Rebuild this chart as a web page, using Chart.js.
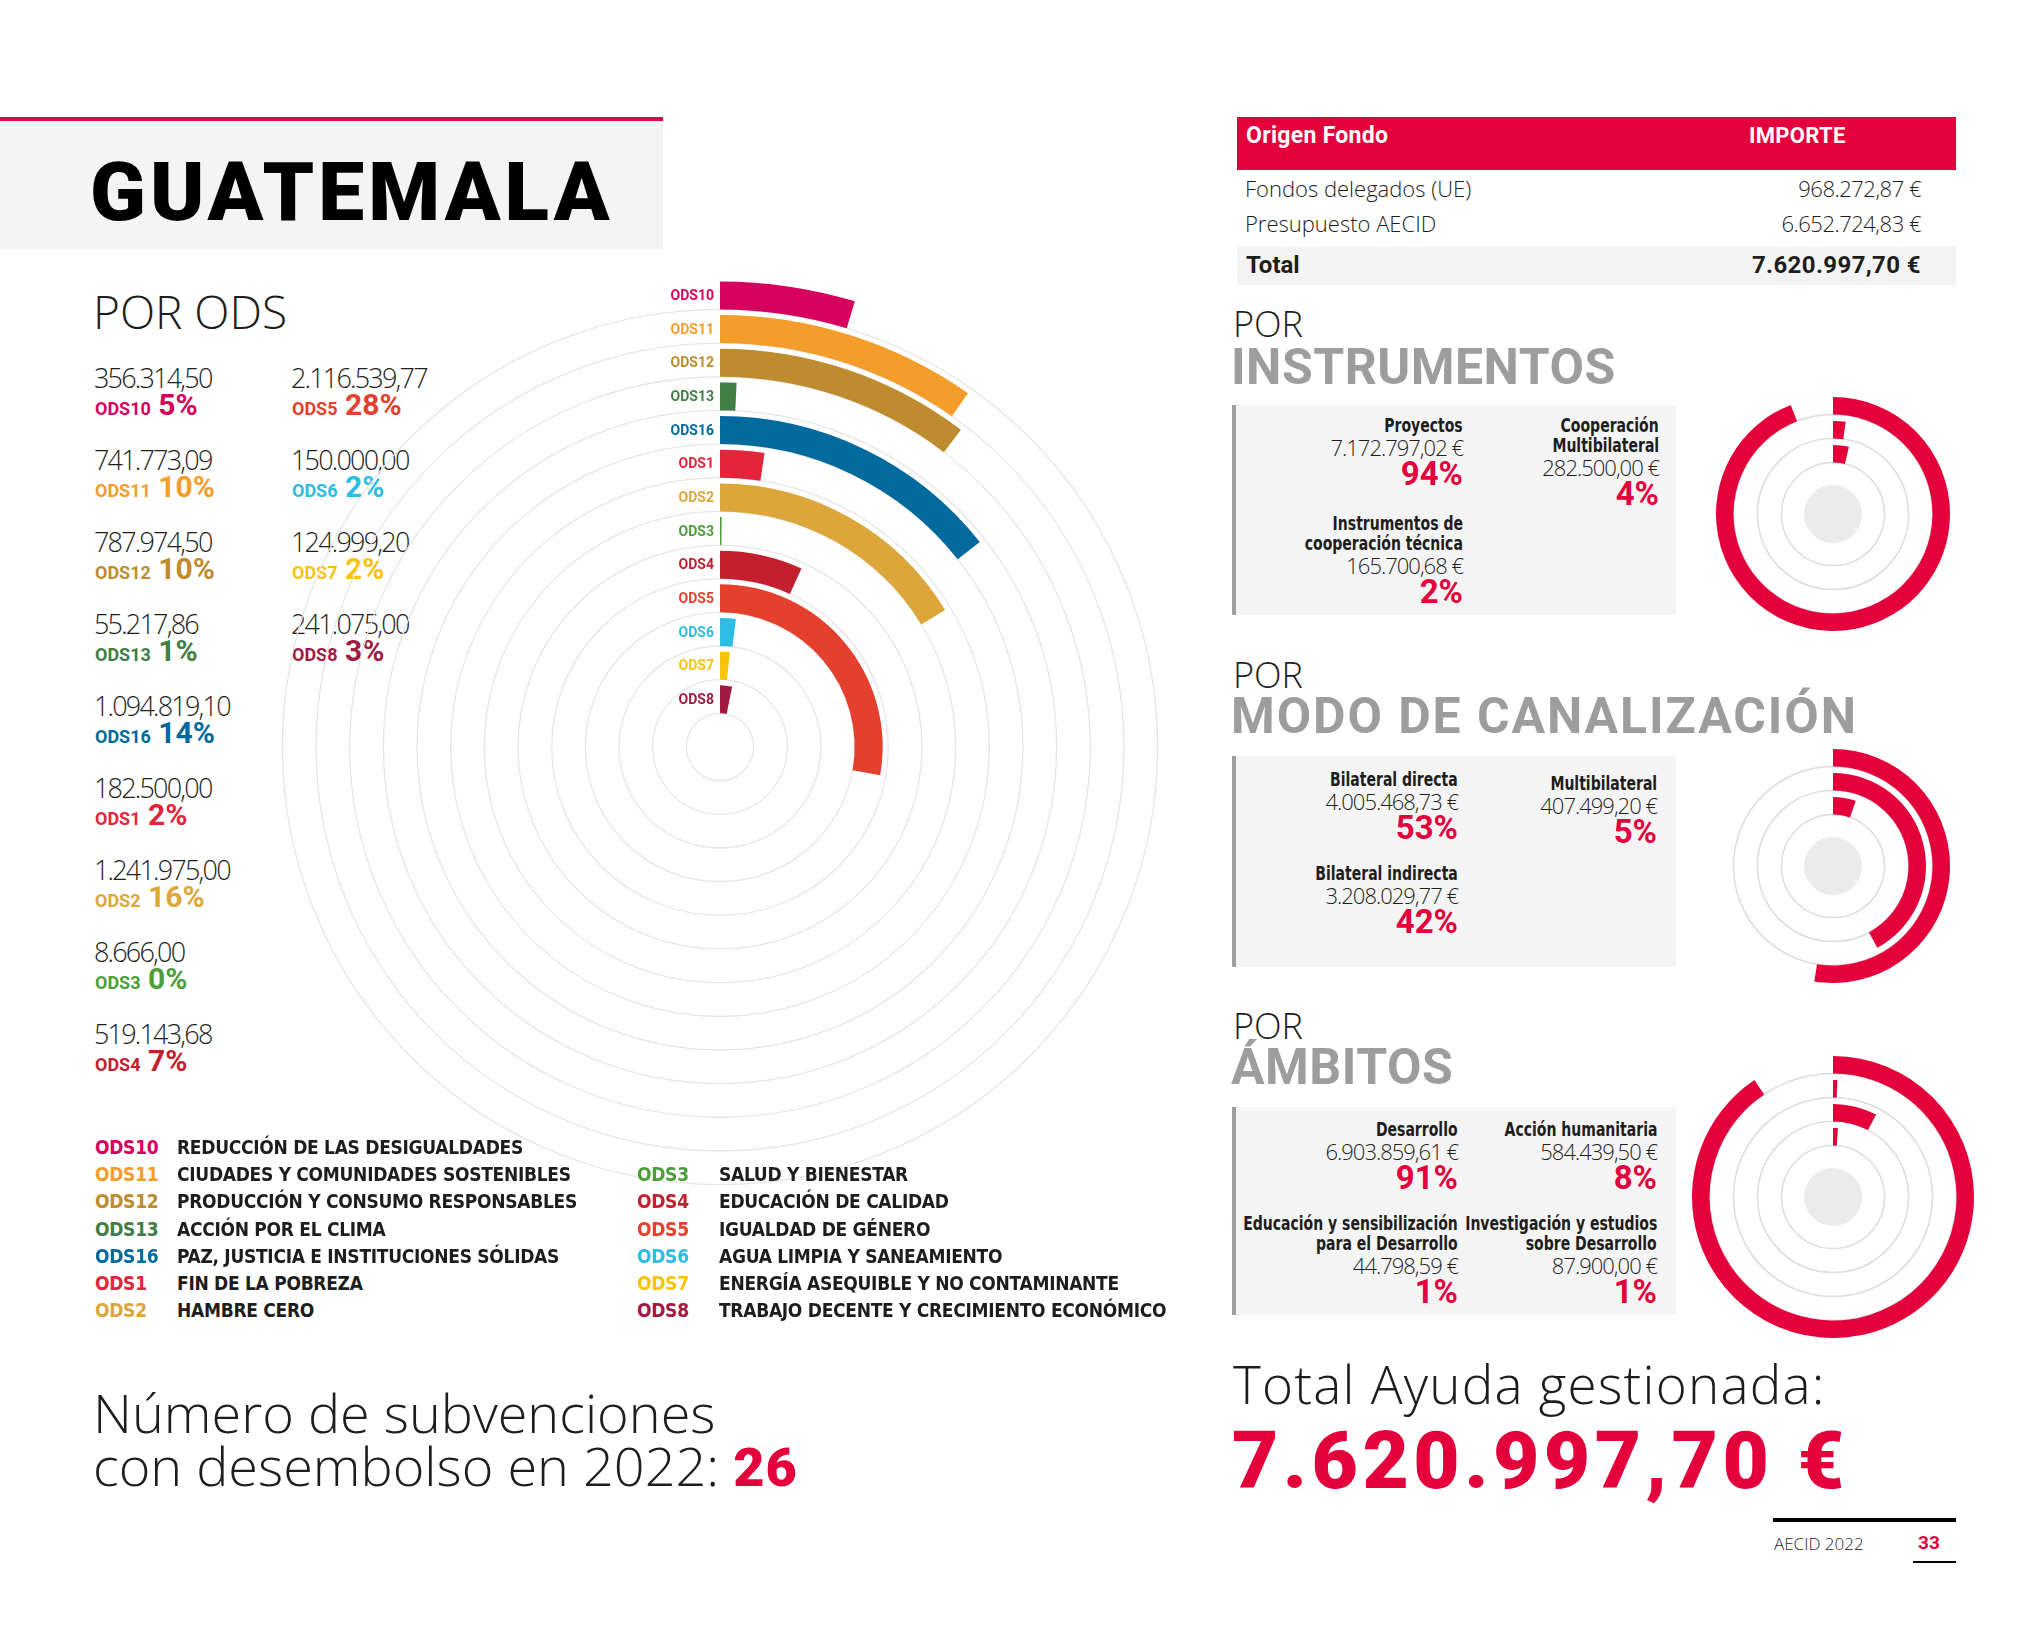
<!DOCTYPE html>
<html lang="es">
<head>
<meta charset="utf-8">
<title>Guatemala - AECID 2022</title>
<script src="https://cdn.jsdelivr.net/npm/chart.js@4.4.1/dist/chart.umd.min.js"></script>
<style>
  body { margin: 0; background: #fff; }
  #page { position: relative; width: 2044px; height: 1636px; overflow: hidden; font-family: 'Open Sans', sans-serif; color: #1d1d1b; }
  .abs { position: absolute; white-space: nowrap; }
  .light { font-family: 'Open Sans', sans-serif; font-weight: 300; }
  .bold { font-family: Roboto, sans-serif; font-weight: 700; }
  .narrow { font-family: 'Liberation Sans Narrow', 'DejaVu Sans Condensed', sans-serif; font-weight: 700; }
  .red { color: #e4003b; }
  canvas { position: absolute; }
  .box { position: absolute; left: 1232px; width: 440px; background: #f4f4f4; border-left: 4px solid #9e9e9e; }
  .col { position: absolute; text-align: right; white-space: nowrap; }
  .col .lab { font-family: 'Liberation Sans Narrow', 'DejaVu Sans Condensed', sans-serif; font-weight: 700; font-size: 19px; line-height: 20px; color: #1d1d1b; }
  .col .lab span { display: inline-block; transform: scaleX(0.82); transform-origin: right center; }
  .col .val { font-family: 'Open Sans', sans-serif; font-weight: 300; font-size: 22px; line-height: 24px; letter-spacing: -1px; }
  .col .pct { font-family: Roboto, sans-serif; font-weight: 700; font-size: 33px; line-height: 30px; color: #e4003b; }
  .sec-por { font-family: 'Open Sans', sans-serif; font-weight: 300; font-size: 36px; line-height: 36px; left: 1233px; }
  .sec-title { font-family: Roboto, sans-serif; font-weight: 700; font-size: 50px; line-height: 50px; color: #9d9d9d; left: 1231px; letter-spacing: 0.5px; }
</style>
</head>
<body>
<div id="page">
  <!-- cabecera -->
  <div class="abs" style="left:0;top:117px;width:663px;height:4px;background:#dc0a45;"></div>
  <div class="abs" style="left:0;top:121px;width:663px;height:128px;background:#f4f4f4;"></div>
  <div class="abs bold" style="left:90px;top:151px;font-size:82px;line-height:82px;font-weight:900;letter-spacing:4px;color:#000;">GUATEMALA</div>
  <div class="abs light" style="left:93px;top:288px;font-size:46px;line-height:46px;">POR ODS</div>

  <div id="odsValues"></div>
  <canvas id="odsChart" width="940" height="940" style="left:250px;top:277px;"></canvas>
  <div id="odsLegend"></div>

  <div class="abs light" style="left:93px;top:1386px;font-size:54px;line-height:53px;">Número de subvenciones<br>con desembolso en 2022: <span id="numSub" class="bold red" style="font-weight:900;letter-spacing:1px;"></span></div>

  <!-- tabla origen -->
  <div class="abs" style="left:1237px;top:117px;width:719px;height:53px;background:#e4003b;"></div>
  <div class="abs bold" style="left:1246px;top:124px;font-size:23px;line-height:24px;letter-spacing:0.3px;color:#fff;">Origen Fondo</div>
  <div class="abs bold" style="left:1749px;top:124px;font-size:22px;line-height:24px;letter-spacing:0.3px;color:#fff;">IMPORTE</div>
  <div class="abs" style="left:1237px;top:247px;width:719px;height:38px;background:#f3f3f3;"></div>
  <div id="fundTable"></div>

  <!-- secciones -->
  <div class="abs sec-por" style="top:306px;">POR</div>
  <div class="abs sec-title" style="top:342px;">INSTRUMENTOS</div>
  <div class="box" style="top:405px;height:210px;"></div>
  <div id="instrText"></div>
  <canvas id="instrChart" width="250" height="250" style="left:1708px;top:389px;"></canvas>

  <div class="abs sec-por" style="top:657px;">POR</div>
  <div class="abs sec-title" style="top:691px;letter-spacing:1.9px;">MODO DE CANALIZACIÓN</div>
  <div class="box" style="top:756px;height:211px;"></div>
  <div id="canalText"></div>
  <canvas id="canalChart" width="250" height="250" style="left:1708px;top:741px;"></canvas>

  <div class="abs sec-por" style="top:1008px;">POR</div>
  <div class="abs sec-title" style="top:1042px;">ÁMBITOS</div>
  <div class="box" style="top:1107px;height:208px;"></div>
  <div id="ambText"></div>
  <canvas id="ambChart" width="300" height="300" style="left:1683px;top:1047px;"></canvas>

  <div class="abs light" style="left:1233px;top:1358px;font-size:53px;line-height:52px;letter-spacing:1.2px;">Total Ayuda gestionada:</div>
  <div id="bigTotal" class="abs bold red" style="left:1232px;top:1421px;font-size:80px;line-height:80px;font-weight:900;letter-spacing:4.5px;"></div>

  <div class="abs" style="left:1773px;top:1518px;width:183px;height:4px;background:#000;"></div>
  <div class="abs light" style="left:1774px;top:1533px;font-size:17px;line-height:22px;">AECID 2022</div>
  <div class="abs bold red" style="left:1918px;top:1532px;font-size:19px;line-height:22px;">33</div>
  <div class="abs" style="left:1913px;top:1561px;width:43px;height:2px;background:#000;"></div>
</div>

<script>
// ODS (orden de los anillos, de fuera hacia dentro)
const odsCodes = ['ODS10', 'ODS11', 'ODS12', 'ODS13', 'ODS16', 'ODS1', 'ODS2', 'ODS3', 'ODS4', 'ODS5', 'ODS6', 'ODS7', 'ODS8'];
const odsNames = [
    'REDUCCIÓN DE LAS DESIGUALDADES',
    'CIUDADES Y COMUNIDADES SOSTENIBLES',
    'PRODUCCIÓN Y CONSUMO RESPONSABLES',
    'ACCIÓN POR EL CLIMA',
    'PAZ, JUSTICIA E INSTITUCIONES SÓLIDAS',
    'FIN DE LA POBREZA',
    'HAMBRE CERO',
    'SALUD Y BIENESTAR',
    'EDUCACIÓN DE CALIDAD',
    'IGUALDAD DE GÉNERO',
    'AGUA LIMPIA Y SANEAMIENTO',
    'ENERGÍA ASEQUIBLE Y NO CONTAMINANTE',
    'TRABAJO DECENTE Y CRECIMIENTO ECONÓMICO'
];
const odsValues = [356314.50, 741773.09, 787974.50, 55217.86, 1094819.10, 182500.00, 1241975.00, 8666.00, 519143.68, 2116539.77, 150000.00, 124999.20, 241075.00];
const odsColors = ['#d8005f', '#f59d2a', '#be8b2f', '#3f7e44', '#00699d', '#e3243b', '#dda63a', '#4c9f38', '#c41f2e', '#e5402d', '#2dbce2', '#f8c20d', '#a11a42'];

// origen de fondos
const fundSources = ['Fondos delegados (UE)', 'Presupuesto AECID'];
const fundValues = [968272.87, 6652724.83];

// instrumentos (anillos de fuera hacia dentro)
const instrLabels = ['Proyectos', 'Instrumentos de\ncooperación técnica', 'Cooperación\nMultibilateral'];
const instrValues = [7172797.02, 165700.68, 282500.00];

// modo de canalización
const canalLabels = ['Bilateral directa', 'Bilateral indirecta', 'Multibilateral'];
const canalValues = [4005468.73, 3208029.77, 407499.20];

// ámbitos
const ambLabels = ['Desarrollo', 'Educación y sensibilización\npara el Desarrollo', 'Acción humanitaria', 'Investigación y estudios\nsobre Desarrollo'];
const ambValues = [6903859.61, 44798.59, 584439.50, 87900.00];

const numSubvenciones = 26;

const RED = '#e4003b';
const sum = arr => arr.reduce((a, b) => a + b, 0);
const total = sum(odsValues);

const fmtNum = v => {
    const [i, d] = v.toFixed(2).split('.');
    return i.replace(/\B(?=(\d{3})+(?!\d))/g, '.') + ',' + d;
};
const pct = (v, t) => Math.round(v / t * 100) + '%';

const el = (parent, html, style, cls) => {
    const d = document.createElement('div');
    d.className = 'abs ' + (cls || '');
    d.style.cssText = style;
    d.innerHTML = html;
    parent.appendChild(d);
    return d;
};

// --- columna de valores por ODS
const valuesBox = document.getElementById('odsValues');
odsCodes.forEach((code, i) => {
    const col = i < 9 ? 0 : 1;
    const row = col === 0 ? i : i - 9;
    const x = col === 0 ? 95 : 292;
    const y = 363 + row * 82;
    el(valuesBox, fmtNum(odsValues[i]), `left:${x - 1}px;top:${y}px;font-size:27px;line-height:30px;letter-spacing:-1.8px;`, 'light');
    el(valuesBox, `<span style="font-size:18px;">${code}</span> ${pct(odsValues[i], total)}`,
        `left:${x}px;top:${y + 27}px;font-size:30px;line-height:30px;color:${odsColors[i]};`, 'bold');
});

// --- leyenda
const legendBox = document.getElementById('odsLegend');
odsCodes.forEach((code, i) => {
    const col = i < 7 ? 0 : 1;
    const row = col === 0 ? i : i - 6;
    const x = col === 0 ? 95 : 637;
    const y = 1134 + row * 27.2;
    el(legendBox, code, `left:${x}px;top:${y}px;font-size:19px;line-height:27px;letter-spacing:-0.3px;color:${odsColors[i]};`, 'narrow');
    el(legendBox, odsNames[i], `left:${x + 82}px;top:${y}px;font-size:19px;line-height:27px;letter-spacing:-0.3px;color:#1d1d1b;`, 'narrow');
});

document.getElementById('numSub').textContent = numSubvenciones;

// --- tabla de fondos
const fundBox = document.getElementById('fundTable');
const fundTotal = sum(fundValues);
fundSources.forEach((s, i) => {
    const y = 175 + i * 35;
    el(fundBox, s, `left:1245px;top:${y}px;font-size:22px;line-height:26px;`, 'light');
    el(fundBox, fmtNum(fundValues[i]) + ' €', `right:${2044 - 1921}px;top:${y}px;font-size:22px;line-height:26px;letter-spacing:-0.5px;`, 'light');
});
el(fundBox, 'Total', 'left:1246px;top:252px;font-size:24px;line-height:26px;', 'bold');
el(fundBox, fmtNum(fundTotal) + ' €', `right:${2044 - 1921}px;top:252px;font-size:24px;line-height:26px;letter-spacing:0.4px;`, 'bold');
document.getElementById('bigTotal').textContent = fmtNum(fundTotal) + ' €';

// --- bloques de texto de los gráficos pequeños
function textColumns(target, labels, values, tops, rights, gap) {
    const box = document.getElementById(target);
    const t = sum(values);
    const half = Math.ceil(labels.length / 2);
    [labels.slice(0, half), labels.slice(half)].forEach((group, c) => {
        const col = document.createElement('div');
        col.className = 'col';
        col.style.cssText = `right:${2044 - rights[c]}px;top:${tops[c]}px;`;
        group.forEach((lab, k) => {
            const idx = c * half + k;
            const lines = lab.split('\n').map(l => `<div class="lab"><span>${l}</span></div>`).join('');
            col.innerHTML += lines + `<div class="val">${fmtNum(values[idx])} €</div>` +
                `<div class="pct">${pct(values[idx], t)}</div>` + (k < group.length - 1 ? `<div style="height:${gap}px"></div>` : '');
        });
        box.appendChild(col);
    });
}
textColumns('instrText', instrLabels, instrValues, [415, 415], [1463, 1659], 24);
textColumns('canalText', canalLabels, canalValues, [769, 773], [1458, 1657], 20);
textColumns('ambText', ambLabels, ambValues, [1119, 1119], [1458, 1657], 20);

// --- Chart.js: anillos radiales
const ringGuides = {
    id: 'ringGuides',
    beforeDatasetsDraw(chart, args, opts) {
        const ctx = chart.ctx;
        ctx.save();
        ctx.strokeStyle = opts.color;
        ctx.lineWidth = opts.width;
        chart.data.datasets.forEach((ds, i) => {
            if (!ds.ring) return;
            const arc = chart.getDatasetMeta(i).data[0];
            ctx.beginPath();
            ctx.arc(arc.x, arc.y, arc.innerRadius, 0, Math.PI * 2);
            ctx.stroke();
        });
        ctx.restore();
    }
};

const ringLabels = {
    id: 'ringLabels',
    afterDatasetsDraw(chart, args, opts) {
        if (!opts.show) return;
        const ctx = chart.ctx;
        ctx.save();
        ctx.font = 'bold 14px Roboto, sans-serif';
        ctx.textAlign = 'right';
        ctx.textBaseline = 'middle';
        chart.data.datasets.forEach((ds, i) => {
            if (!ds.ring) return;
            const arc = chart.getDatasetMeta(i).data[0];
            ctx.fillStyle = ds.backgroundColor[0];
            ctx.fillText(ds.label, arc.x - 6, arc.y - (arc.innerRadius + arc.outerRadius) / 2 + 1);
        });
        ctx.restore();
    }
};

function buildRings(labels, values, colors, t, barW, gapW, disk) {
    const sets = [];
    values.forEach((v, i) => {
        if (i > 0) sets.push({ data: [1], backgroundColor: ['rgba(0,0,0,0)'], weight: gapW });
        sets.push({ label: labels[i], ring: true, data: [v, Math.max(t - v, 0)], backgroundColor: [colors[i], 'rgba(0,0,0,0)'], weight: barW });
    });
    if (disk) {
        sets.push({ data: [1], backgroundColor: ['rgba(0,0,0,0)'], weight: disk.gap });
        sets.push({ data: [1], backgroundColor: ['#ebebeb'], weight: disk.r });
    }
    return sets;
}

function radial(id, labels, values, colors, opt) {
    const t = sum(values);
    const n = values.length;
    const outer = opt.cut + (n - 1) * opt.step + opt.bar;
    return new Chart(document.getElementById(id), {
        type: 'doughnut',
        data: { labels: ['valor', 'resto'], datasets: buildRings(labels, values, colors, t, opt.bar, opt.step - opt.bar, opt.disk) },
        options: {
            responsive: false,
            animation: false,
            radius: outer,
            cutout: opt.disk ? 0 : (opt.cut / outer * 100) + '%',
            borderWidth: 0,
            events: [],
            plugins: {
                legend: { display: false },
                tooltip: { enabled: false },
                ringGuides: { color: opt.guide, width: opt.guideW },
                ringLabels: { show: !!opt.showLabels }
            }
        },
        plugins: [ringGuides, ringLabels]
    });
}

radial('odsChart', odsCodes, odsValues, odsColors, { cut: 33.66, step: 33.66, bar: 28, guide: '#e6e6e6', guideW: 1.3, showLabels: true });

const smallOpt = { cut: 51.5, step: 24, bar: 17.5, guide: '#dcdcdc', guideW: 1.5, disk: { r: 29, gap: 22.5 } };
radial('instrChart', instrLabels, instrValues, instrValues.map(() => RED), smallOpt);
radial('canalChart', canalLabels, canalValues, canalValues.map(() => RED), smallOpt);
radial('ambChart', ambLabels, ambValues, ambValues.map(() => RED), smallOpt);
</script>
</body>
</html>
